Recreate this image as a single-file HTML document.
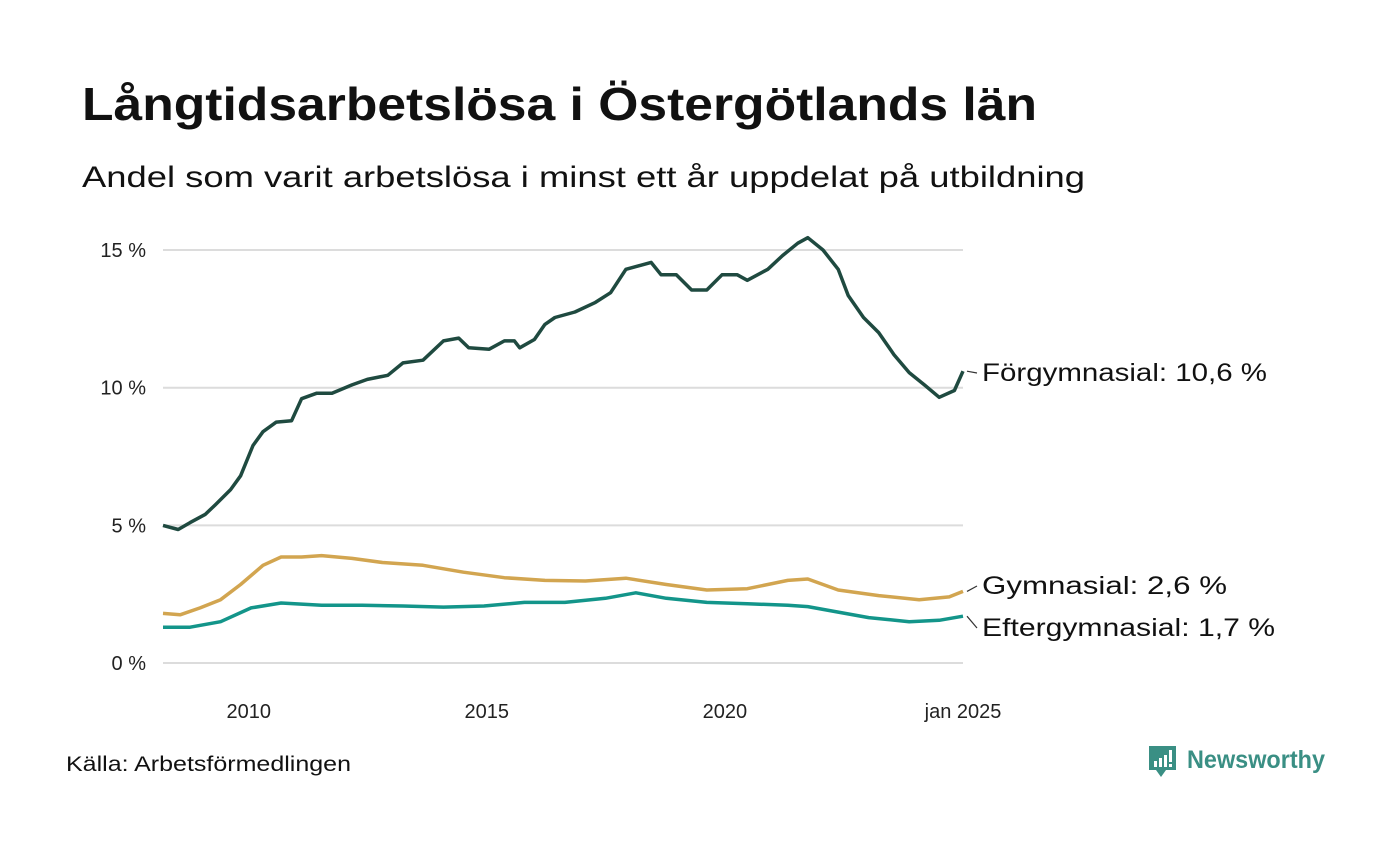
<!DOCTYPE html>
<html><head><meta charset="utf-8"><style>
body{margin:0;background:#fff;width:1400px;height:840px;overflow:hidden;font-family:"Liberation Sans",sans-serif}
</style></head><body>
<svg width="1400" height="840" xmlns="http://www.w3.org/2000/svg">
<text x="82" y="120" font-size="46" font-weight="bold" fill="#111" textLength="955" lengthAdjust="spacingAndGlyphs">Långtidsarbetslösa i Östergötlands län</text>
<text x="82" y="187" font-size="30" fill="#111" textLength="1003" lengthAdjust="spacingAndGlyphs">Andel som varit arbetslösa i minst ett år uppdelat på utbildning</text>
<g id="grid"></g>
<g id="lines"></g>
<g id="labels"></g>
<text x="66" y="771" font-size="21" fill="#111" textLength="285" lengthAdjust="spacingAndGlyphs">Källa: Arbetsförmedlingen</text>
<g>
<path d="M1149 746h27v24h-10l-5 7-5-7h-7z" fill="#3a8f84"/>
<rect x="1154" y="761" width="3" height="6" fill="#fff"/><rect x="1159" y="758" width="3" height="9" fill="#fff"/><rect x="1164" y="755" width="3" height="12" fill="#fff"/><rect x="1169" y="750" width="3" height="12" fill="#fff"/><rect x="1169" y="764" width="3" height="3" fill="#fff"/>
<text x="1187" y="768" font-size="25" font-weight="bold" fill="#3a8f84" textLength="138" lengthAdjust="spacingAndGlyphs">Newsworthy</text>
</g>
</svg>
<script>
const yTicks=[0,5,10,15];
const xTicks=[2010,2015,2020];
const forgT=[2008.2,2008.52,2008.77,2009.09,2009.3,2009.62,2009.83,2010.09,2010.3,2010.58,2010.9,2011.11,2011.43,2011.75,2012.17,2012.49,2012.92,2013.24,2013.66,2014.09,2014.41,2014.62,2015.05,2015.37,2015.58,2015.69,2016.0,2016.22,2016.43,2016.85,2017.28,2017.6,2017.92,2018.24,2018.45,2018.66,2018.98,2019.3,2019.62,2019.94,2020.26,2020.47,2020.9,2021.21,2021.53,2021.74,2022.06,2022.38,2022.59,2022.91,2023.23,2023.55,2023.87,2024.19,2024.5,2024.82,2025.0];
const forgV=[5.0,4.85,5.1,5.4,5.75,6.3,6.8,7.9,8.4,8.75,8.8,9.6,9.8,9.8,10.1,10.3,10.45,10.9,11.0,11.7,11.8,11.45,11.4,11.7,11.7,11.45,11.75,12.3,12.55,12.75,13.1,13.45,14.3,14.45,14.55,14.1,14.1,13.55,13.55,14.1,14.1,13.9,14.3,14.8,15.25,15.45,15.0,14.3,13.35,12.55,12.0,11.2,10.55,10.1,9.65,9.9,10.6];
const gymT=[2008.2,2008.56,2008.98,2009.41,2009.83,2010.3,2010.68,2011.11,2011.53,2012.17,2012.81,2013.66,2014.51,2015.37,2016.22,2017.07,2017.92,2018.77,2019.62,2020.47,2021.32,2021.74,2022.38,2023.23,2024.08,2024.71,2025.0];
const gymV=[1.8,1.75,2.0,2.3,2.85,3.55,3.85,3.85,3.9,3.8,3.65,3.55,3.3,3.1,3.0,2.98,3.08,2.85,2.65,2.7,3.0,3.05,2.65,2.45,2.3,2.4,2.6];
const eftT=[2008.2,2008.77,2009.41,2010.05,2010.68,2011.53,2012.38,2013.24,2014.09,2014.94,2015.79,2016.64,2017.49,2018.13,2018.77,2019.62,2020.47,2021.32,2021.74,2022.38,2023.02,2023.87,2024.5,2025.0];
const eftV=[1.3,1.3,1.5,2.0,2.18,2.1,2.1,2.07,2.03,2.07,2.2,2.2,2.35,2.55,2.35,2.2,2.15,2.1,2.05,1.85,1.65,1.5,1.55,1.7];
const NS='http://www.w3.org/2000/svg';
const x=t=>163+(t-2008.2)/(2025.0-2008.2)*800;
const y=v=>663-v*27.53;
function mk(tag,attrs,parent,txt){const e=document.createElementNS(NS,tag);for(const k in attrs)e.setAttribute(k,attrs[k]);if(txt!==undefined)e.textContent=txt;parent.appendChild(e);return e;}
const grid=document.getElementById('grid');
yTicks.forEach(v=>{
 const l=mk('line',{x1:163,x2:963,y1:y(v),y2:y(v),stroke:'#dcdcdc','stroke-width':2},grid);
 
 
 const t=mk('text',{x:146,y:y(v)+7,'font-size':20,fill:'#222','text-anchor':'end'},grid,v+' %');
 
 
});
xTicks.forEach(v=>{
 const t=mk('text',{x:x(v),y:718,'font-size':20,fill:'#222','text-anchor':'middle'},grid,String(v));
 
 
});
const lt=mk('text',{x:x(2025),y:718,'font-size':20,fill:'#222','text-anchor':'middle'},grid,'jan 2025');


const lines=document.getElementById('lines');
function draw(T,V,color,name){
 const d=T.map((t,i)=>(i?'L':'M')+x(t).toFixed(1)+' '+y(V[i]).toFixed(1)).join(' ');
 const p=mk('path',{d:d,fill:'none',stroke:color,'stroke-width':3.5,'stroke-linejoin':'round'},lines);
 
 
}
draw(gymT,gymV,'#d2a550','line-gymnasial');
draw(eftT,eftV,'#13958a','line-eftergymnasial');
draw(forgT,forgV,'#1f4a40','line-forgymnasial');
const labels=document.getElementById('labels');
function lab(V,ly,text,w,name){
 const ev=V[V.length-1];
 mk('line',{x1:967,y1:y(ev),x2:977,y2:ly-8,stroke:'#333','stroke-width':1.2},labels);
 const t=mk('text',{x:982,y:ly,'font-size':25,fill:'#111',textLength:w,lengthAdjust:'spacingAndGlyphs'},labels,text);
 
 
}
lab(forgV,381,'Förgymnasial: 10,6 %',285,'label-forgymnasial');
lab(gymV,594,'Gymnasial:  2,6 %',245,'label-gymnasial');
lab(eftV,636,'Eftergymnasial:  1,7 %',293,'label-eftergymnasial');
</script>
</body></html>
